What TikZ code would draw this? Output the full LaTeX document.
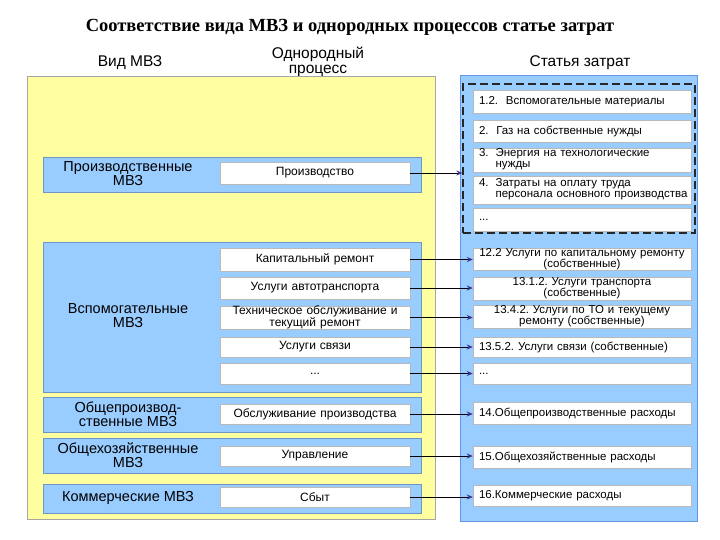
\documentclass[tikz,border=0pt]{standalone}
\usepackage{fontspec}
\setmainfont{Liberation Sans}
\newfontfamily\titlefont{Liberation Serif}
\usetikzlibrary{arrows.meta}
\frenchspacing
\definecolor{panelyellow}{RGB}{255,255,160}
\definecolor{boxblue}{RGB}{153,204,255}
\definecolor{blueedge}{RGB}{110,150,200}
\definecolor{rightedge}{RGB}{100,150,230}
\definecolor{arrowblue}{RGB}{60,50,150}
\definecolor{whiteedge}{RGB}{185,185,185}
\tikzset{
  hdr/.style={font=\fontsize{15.5}{14.5}\selectfont, align=center, inner sep=0pt},
  groupbox/.style={draw=blueedge, line width=0.8pt, fill=boxblue, inner sep=0pt},
  grouplabel/.style={font=\fontsize{14.5}{14}\selectfont, align=center, inner sep=0pt},
  procbox/.style={draw=whiteedge, fill=white, line width=0.5pt, minimum width=190pt,
    text width=184pt, inner xsep=3pt, inner ysep=0pt, align=center,
    font=\fontsize{12}{11.5}\selectfont},
  costbox/.style={draw=whiteedge, fill=white, line width=0.5pt, minimum width=218pt,
    text width=206pt, inner xsep=6pt, inner ysep=0pt, align=left,
    font=\fontsize{11.5}{11}\selectfont},
  costc/.style={costbox, align=center},
  arr/.style={draw=black, line width=0.7pt, -{Stealth[length=6pt,width=5pt,color=arrowblue]}},
}
\begin{document}
\begin{tikzpicture}[x=1pt,y=-1pt]
\useasboundingbox[fill=white] (0,0) rectangle (720,540);

% title and headers
\node[font=\titlefont\bfseries\fontsize{18.5}{18}\selectfont, inner sep=0pt] (title) at (350,27)
  {Соответствие вида МВЗ и однородных процессов статье затрат};
\node[hdr] (hvid) at (130,63) {Вид МВЗ};
\node[hdr] (hproc) at (318,62) {Однородный\\процесс};
\node[hdr] (hst) at (580,63) {Статья затрат};

% panels
\node[draw=gray!70, fill=panelyellow, line width=0.6pt, minimum width=408pt, minimum height=443pt, inner sep=0pt] (ypanel) at (231,297.5) {};
\node[draw=rightedge, fill=boxblue, line width=1pt, minimum width=237pt, minimum height=445pt, inner sep=0pt] (bpanel) at (578.5,298.5) {};
\node[draw=black!85, dashed, dash pattern=on 8pt off 4pt, line width=1.4pt, minimum width=232pt, minimum height=149pt, inner sep=0pt] (dash) at (579,158.5) {};

% left group boxes
\node[groupbox, minimum width=378pt, minimum height=35pt] (gprod) at (232,174.5) {};
\node[groupbox, minimum width=378pt, minimum height=150pt] (gvsp) at (232,317) {};
\node[groupbox, minimum width=378pt, minimum height=35pt] (gop) at (232,414.5) {};
\node[groupbox, minimum width=378pt, minimum height=35pt] (goh) at (232,455.5) {};
\node[groupbox, minimum width=378pt, minimum height=29pt] (gkom) at (232,498.5) {};

\node[grouplabel] (lprod) at (128,174) {Производственные\\МВЗ};
\node[grouplabel] (lvsp) at (128,316) {Вспомогательные\\МВЗ};
\node[grouplabel] (lop) at (128,414) {Общепроизвод-\\ственные МВЗ};
\node[grouplabel] (loh) at (128,455) {Общехозяйственные\\МВЗ};
\node[grouplabel] (lkom) at (128,498) {Коммерческие МВЗ};

% process boxes
\node[procbox, minimum height=22pt] (prod) at (315,173) {Производство};
\node[procbox, minimum height=23pt] (kap) at (315,259.5) {Капитальный ремонт};
\node[procbox, minimum height=22pt] (avto) at (315,288) {Услуги автотранспорта};
\node[procbox, minimum height=23pt] (to) at (315,317.5) {Техническое обслуживание и\\текущий ремонт};
\node[procbox, minimum height=20pt] (sv) at (315,347) {Услуги связи};
\node[procbox, minimum height=21pt] (pdots) at (315,373.5) {...};
\node[procbox, minimum height=20pt] (obsl) at (315,414) {Обслуживание производства};
\node[procbox, minimum height=20pt] (upr) at (315,456) {Управление};
\node[procbox, minimum height=20pt] (sbyt) at (315,497) {Сбыт};

% cost items in dashed group
\node[costbox, minimum height=23pt] (c1) at (582,101.5) {1.2.\ \ Вспомогательные материалы};
\node[costbox, minimum height=22pt] (c2) at (582,131) {2.\ \ Газ на собственные нужды};
\node[costbox, minimum height=24pt] (c3) at (582,160)
  {\begin{tabular}{@{}l@{\hspace{7pt}}l@{}}3. & Энергия на технологические\\ & нужды\end{tabular}};
\node[costbox, minimum height=28pt] (c4) at (582,190)
  {\begin{tabular}{@{}l@{\hspace{7pt}}l@{}}4. & Затраты на оплату труда\\ & персонала основного производства\end{tabular}};
\node[costbox, minimum height=23pt] (c5) at (582,219.5) {...};

% other cost items
\node[costc, minimum height=22pt] (c122) at (582,259) {12.2 Услуги по капитальному ремонту\\(собственные)};
\node[costc, minimum height=23pt] (c1312) at (582,288.5) {13.1.2. Услуги транспорта\\(собственные)};
\node[costc, minimum height=23pt] (c1342) at (582,316.5) {13.4.2. Услуги по ТО и текущему\\ремонту (собственные)};
\node[costbox, minimum height=20pt] (c1352) at (582,347) {13.5.2. Услуги связи (собственные)};
\node[costbox, minimum height=21pt] (cdots) at (582,373.5) {...};
\node[costbox, minimum height=22pt] (c14) at (582,413) {14.Общепроизводственные расходы};
\node[costbox, minimum height=22pt] (c15) at (582,457) {15.Общехозяйственные расходы};
\node[costbox, minimum height=21pt] (c16) at (582,495.5) {16.Коммерческие расходы};

% connectors
\draw[arr] (prod.east) -- (prod.east -| dash.west);
\draw[arr] (kap.east) -- (kap.east -| c122.west);
\draw[arr] (avto.east) -- (avto.east -| c1312.west);
\draw[arr] (to.east) -- (to.east -| c1342.west);
\draw[arr] (sv.east) -- (sv.east -| c1352.west);
\draw[arr] (pdots.east) -- (pdots.east -| cdots.west);
\draw[arr] (obsl.east) -- (obsl.east -| c14.west);
\draw[arr] (upr.east) -- (upr.east -| c15.west);
\draw[arr] (sbyt.east) -- (sbyt.east -| c16.west);
\end{tikzpicture}
\end{document}
